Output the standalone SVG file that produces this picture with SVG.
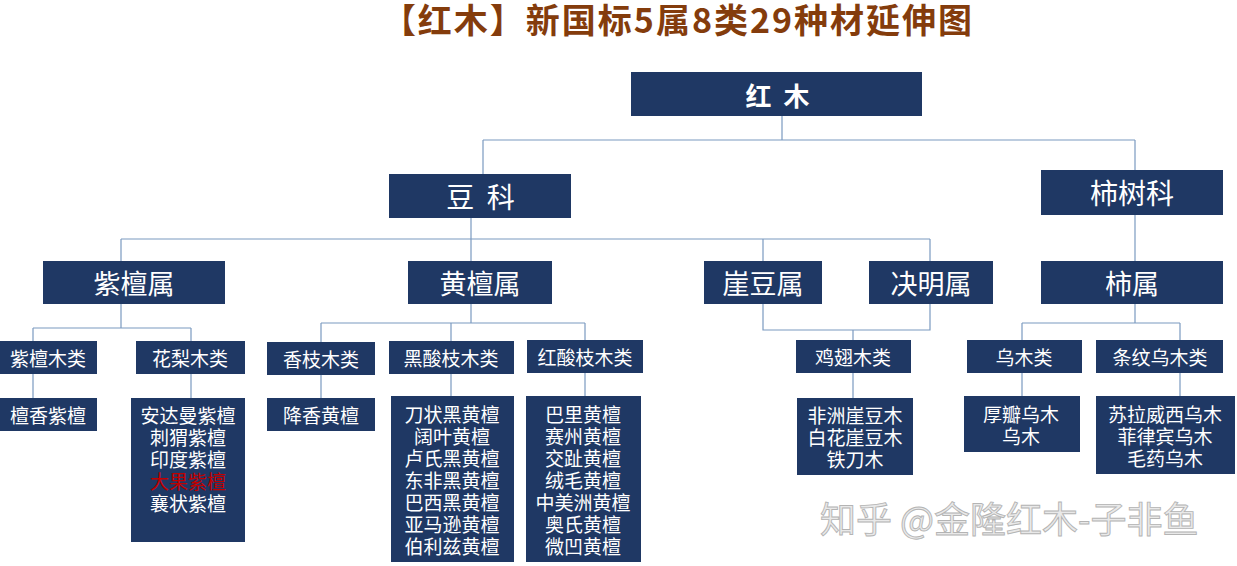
<svg xmlns="http://www.w3.org/2000/svg" width="1237" height="566" viewBox="0 0 1237 566">
<style>
.bg{fill:#ffffff}
.n{fill:#1F3864}
.t{fill:#ffffff;font-family:"Noto Sans CJK SC","Noto Sans",sans-serif;text-anchor:middle;dominant-baseline:central}
.l1{font-size:26px;font-weight:bold;letter-spacing:3px}
.l2{font-size:28px}
.sp{letter-spacing:3px}
.l3{font-size:27px}
.l4{font-size:19px}
.l5{font-size:19px}
.red{fill:#C00000}
.c{fill:none;stroke:#7B9AC0;stroke-width:1.2}
.title{fill:#843C0C;font-family:"Noto Sans CJK SC","Noto Sans",sans-serif;font-size:34px;font-weight:bold;text-anchor:middle;letter-spacing:2px}
.wm{fill:#e9e9e9;stroke:#b4b4b4;stroke-width:0.9;font-family:"Noto Sans CJK SC","Noto Sans",sans-serif;font-size:36px;text-anchor:start;dominant-baseline:central}
</style>
<rect class="bg" x="0" y="0" width="1237" height="566"/>
<text class="title" x="678" y="33">【红木】新国标5属8类29种材延伸图</text>

<g id="connectors">
<path class="c" d="M782 116V140M483 140H1135M483 140V174M1135 140V170"/>
<path class="c" d="M471 218V239M121 239H930M121 239V261M471 239V261M763 239V261M930 239V261"/>
<path class="c" d="M1135 215V261"/>
<path class="c" d="M121 304V328M33 328H191M33 328V341M191 328V341"/>
<path class="c" d="M471 304V323M321 323H585M321 323V342M451 323V341M585 323V340"/>
<path class="c" d="M763 304V330H930V304M853 330V340"/>
<path class="c" d="M1135 304V323M1022 323H1180M1022 323V340M1180 323V340"/>
<path class="c" d="M33 374V398M191 374V398M321 375V398M451 374V396M585 373V396M853 373V398M1022 373V396M1180 373V396"/>
</g>

<g id="n-hongmu"><rect class="n" x="631" y="72" width="291" height="44"/><text class="t l1" x="779" y="94">红 木</text></g>
<g id="n-douke"><rect class="n" x="389" y="174" width="182" height="44"/><text class="t l2 sp" x="482" y="196">豆 科</text></g>
<g id="n-shishuke"><rect class="n" x="1041" y="170" width="182" height="45"/><text class="t l2" x="1132" y="192">柿树科</text></g>

<g id="n-zitanshu"><rect class="n" x="43" y="261" width="182" height="43"/><text class="t l3" x="134" y="282">紫檀属</text></g>
<g id="n-huangtanshu"><rect class="n" x="408" y="261" width="144" height="43"/><text class="t l3" x="480" y="282">黄檀属</text></g>
<g id="n-yadoushu"><rect class="n" x="704" y="261" width="118" height="43"/><text class="t l3" x="763" y="282">崖豆属</text></g>
<g id="n-juemingshu"><rect class="n" x="869" y="261" width="124" height="43"/><text class="t l3" x="931" y="282">决明属</text></g>
<g id="n-shishu"><rect class="n" x="1041" y="261" width="182" height="43"/><text class="t l3" x="1132" y="282">柿属</text></g>

<g id="n-zitanmulei"><rect class="n" x="0" y="341" width="97" height="33"/><text class="t l4" x="48" y="357">紫檀木类</text></g>
<g id="n-hualimulei"><rect class="n" x="136" y="341" width="109" height="33"/><text class="t l4" x="190" y="357">花梨木类</text></g>
<g id="n-xiangzhimulei"><rect class="n" x="267" y="342" width="108" height="33"/><text class="t l4" x="321" y="358">香枝木类</text></g>
<g id="n-heisuanzhimulei"><rect class="n" x="389" y="341" width="125" height="33"/><text class="t l4" x="451" y="357">黑酸枝木类</text></g>
<g id="n-hongsuanzhimulei"><rect class="n" x="527" y="340" width="116" height="33"/><text class="t l4" x="585" y="356">红酸枝木类</text></g>
<g id="n-jichimulei"><rect class="n" x="796" y="340" width="115" height="33"/><text class="t l4" x="853" y="356">鸡翅木类</text></g>
<g id="n-wumulei"><rect class="n" x="967" y="340" width="115" height="33"/><text class="t l4" x="1024" y="356">乌木类</text></g>
<g id="n-tiaowenwumulei"><rect class="n" x="1096" y="340" width="127" height="33"/><text class="t l4" x="1160" y="356">条纹乌木类</text></g>

<g id="n-tanxiangzitan"><rect class="n" x="0" y="398" width="97" height="33"/><text class="t l5" x="48" y="414">檀香紫檀</text></g>
<g id="n-huali-list"><rect class="n" x="131" y="398" width="114" height="144"/>
<text class="t l5"><tspan x="188" y="414">安达曼紫檀</tspan><tspan x="188" y="436">刺猬紫檀</tspan><tspan x="188" y="458">印度紫檀</tspan><tspan class="red" x="188" y="480">大果紫檀</tspan><tspan x="188" y="502">襄状紫檀</tspan></text></g>
<g id="n-jiangxianghuangtan"><rect class="n" x="267" y="398" width="108" height="33"/><text class="t l5" x="321" y="414">降香黄檀</text></g>
<g id="n-heisuanzhi-list"><rect class="n" x="391" y="396" width="123" height="166"/>
<text class="t l5"><tspan x="452" y="413">刀状黑黄檀</tspan><tspan x="452" y="435">阔叶黄檀</tspan><tspan x="452" y="457">卢氏黑黄檀</tspan><tspan x="452" y="479">东非黑黄檀</tspan><tspan x="452" y="501">巴西黑黄檀</tspan><tspan x="452" y="523">亚马逊黄檀</tspan><tspan x="452" y="545">伯利兹黄檀</tspan></text></g>
<g id="n-hongsuanzhi-list"><rect class="n" x="526" y="396" width="115" height="166"/>
<text class="t l5"><tspan x="583" y="413">巴里黄檀</tspan><tspan x="583" y="435">赛州黄檀</tspan><tspan x="583" y="457">交趾黄檀</tspan><tspan x="583" y="479">绒毛黄檀</tspan><tspan x="583" y="501">中美洲黄檀</tspan><tspan x="583" y="523">奥氏黄檀</tspan><tspan x="583" y="545">微凹黄檀</tspan></text></g>
<g id="n-jichi-list"><rect class="n" x="797" y="398" width="116" height="77"/>
<text class="t l5"><tspan x="855" y="414">非洲崖豆木</tspan><tspan x="855" y="436">白花崖豆木</tspan><tspan x="855" y="458">铁刀木</tspan></text></g>
<g id="n-wumu-list"><rect class="n" x="964" y="396" width="116" height="56"/>
<text class="t l5"><tspan x="1021" y="413">厚瓣乌木</tspan><tspan x="1021" y="435">乌木</tspan></text></g>
<g id="n-tiaowen-list"><rect class="n" x="1096" y="396" width="139" height="78"/>
<text class="t l5"><tspan x="1165" y="413">苏拉威西乌木</tspan><tspan x="1165" y="435">菲律宾乌木</tspan><tspan x="1165" y="457">毛药乌木</tspan></text></g>

<text class="wm" x="820" y="517">知乎 @金隆红木-子非鱼</text>
</svg>
